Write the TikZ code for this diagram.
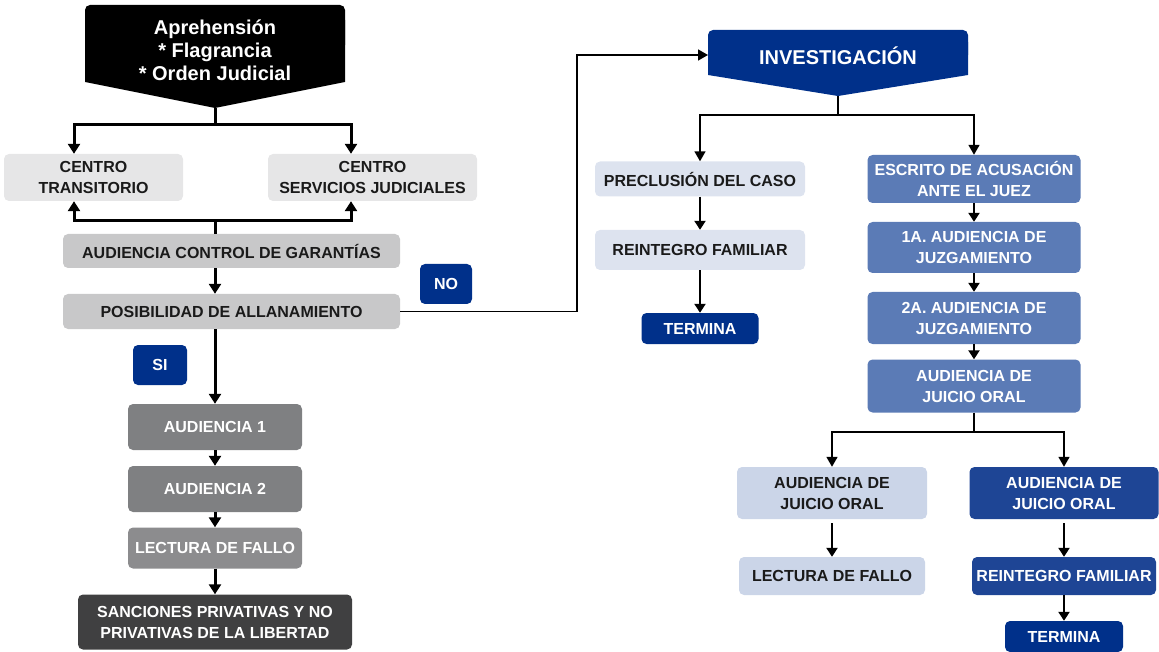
\documentclass[tikz,border=0pt]{standalone}
\usepackage{fontspec}
\setmainfont{Liberation Sans}
\usetikzlibrary{arrows.meta}
\definecolor{lgray}{HTML}{E6E6E7}
\definecolor{mgray}{HTML}{C8C8C9}
\definecolor{gray1}{HTML}{7F8082}
\definecolor{gray2}{HTML}{8C8C8E}
\definecolor{dgray}{HTML}{404041}
\definecolor{dblue}{HTML}{00308A}
\definecolor{lblue}{HTML}{DDE3EF}
\definecolor{mblue}{HTML}{5B7BB6}
\definecolor{pblue}{HTML}{CBD5E8}
\definecolor{rblue}{HTML}{1E4595}
\definecolor{txt}{HTML}{1A1A1A}
\begin{document}
\begin{tikzpicture}[x=1pt,y=-1pt,
  box/.style={rounded corners=5pt, inner sep=0pt, align=center,
    font=\bfseries\fontsize{16}{21}\selectfont},
  darktxt/.style={text=txt},
  lighttxt/.style={text=white},
  thickln/.style={line width=3pt},
  thickarr/.style={line width=3pt, -{Triangle[width=12pt,length=10pt]}},
  medarr/.style={line width=2.4pt, -{Triangle[width=11pt,length=9pt]}},
  thinln/.style={line width=1.6pt},
  thinarr/.style={line width=1.6pt, -{Triangle[width=11pt,length=10pt]}},
]
\useasboundingbox (0,0) rectangle (1159,652);

% ---- Aprehension shape
\fill[black, rounded corners=5pt] (85,5) rectangle (345,50);
\fill[black] (85,20) -- (345,20) -- (345,82) -- (215,108) -- (85,82) -- cycle;
\node[align=center, text=white, font=\bfseries\fontsize{20}{23}\selectfont] (apr) at (215,50)
  {Aprehensión\\* Flagrancia\\* Orden Judicial};
\coordinate (aprTip) at (215,108);

% ---- left column
\node[box, darktxt, fill=lgray, minimum width=179, minimum height=47] (ct) at (93.5,177.5) {CENTRO\\TRANSITORIO};
\node[box, darktxt, fill=lgray, minimum width=209, minimum height=47] (csj) at (372.5,177.5) {CENTRO\\SERVICIOS JUDICIALES};
\node[box, darktxt, fill=mgray, minimum width=337, minimum height=34] (acg) at (231.5,251) {AUDIENCIA CONTROL DE GARANTÍAS};
\node[box, darktxt, fill=mgray, minimum width=337, minimum height=35] (pos) at (231.5,311.5) {POSIBILIDAD DE ALLANAMIENTO};
\node[box, lighttxt, fill=dblue, minimum width=52, minimum height=40] (no) at (446,284) {NO};
\node[box, lighttxt, fill=dblue, minimum width=54, minimum height=40] (si) at (160,365) {SI};
\node[box, lighttxt, fill=gray1, minimum width=174, minimum height=46] (a1) at (215,427) {AUDIENCIA 1};
\node[box, lighttxt, fill=gray1, minimum width=174, minimum height=46] (a2) at (215,489) {AUDIENCIA 2};
\node[box, lighttxt, fill=gray2, minimum width=174, minimum height=41] (lf) at (215,548) {LECTURA DE FALLO};
\node[box, lighttxt, fill=dgray, minimum width=274, minimum height=55] (san) at (215,622) {SANCIONES PRIVATIVAS Y NO\\PRIVATIVAS DE LA LIBERTAD};

\coordinate (j1) at (215,125);
\draw[thickln] (aprTip) -- (j1);
\draw[thickarr] (j1) -| ([xshift=-19.5pt]ct.north);
\draw[thickarr] (j1) -| ([xshift=-21.5pt]csj.north);
\coordinate (j2) at (215,221);
\draw[thickln] ([xshift=-16.5pt]acg.north) -- (j2);
\draw[thickarr] (j2) -| ([xshift=-19.5pt]ct.south);
\draw[thickarr] (j2) -| ([xshift=-21.5pt]csj.south);
\draw[thickarr] ([xshift=-16.5pt]acg.south) -- ([xshift=-16.5pt]pos.north);
\draw[thickarr] ([xshift=-16.5pt]pos.south) -- (a1.north);
\draw[thickarr] (a1.south) -- (a2.north);
\draw[thickarr] (a2.south) -- (lf.north);
\draw[thickarr] (lf.south) -- (san.north);

% ---- Investigacion shape
\fill[dblue, rounded corners=5pt] (708,30) rectangle (968,60);
\fill[dblue] (708,42) -- (968,42) -- (968,75) -- (838,96) -- (708,75) -- cycle;
\node[text=white, font=\bfseries\fontsize{20}{23}\selectfont] (inv) at (838,56) {INVESTIGACIÓN};
\coordinate (invTip) at (838,96);
\coordinate (invW) at (708,55);
\draw[thinarr] (pos.east) -- ++(177,0) |- (invW);

% ---- right middle column
\node[box, darktxt, fill=lblue, minimum width=210, minimum height=35] (pre) at (700,179) {PRECLUSIÓN DEL CASO};
\node[box, darktxt, fill=lblue, minimum width=210, minimum height=40] (rf1) at (700,250) {REINTEGRO FAMILIAR};
\node[box, lighttxt, fill=dblue, minimum width=117, minimum height=31] (t1) at (700,328.5) {TERMINA};

\node[box, lighttxt, fill=mblue, minimum width=213, minimum height=48] (esc) at (974,179) {ESCRITO DE ACUSACIÓN\\ANTE EL JUEZ};
\node[box, lighttxt, fill=mblue, minimum width=213, minimum height=51] (j1a) at (974,247.5) {1A. AUDIENCIA DE\\JUZGAMIENTO};
\node[box, lighttxt, fill=mblue, minimum width=213, minimum height=52] (j2a) at (974,318) {2A. AUDIENCIA DE\\JUZGAMIENTO};
\node[box, lighttxt, fill=mblue, minimum width=213, minimum height=53] (ajo) at (974,386) {AUDIENCIA DE\\JUICIO ORAL};

\coordinate (j3) at (838,115);
\draw[thinln] (invTip) -- (j3);
\draw[thinarr] (j3) -| (pre.north);
\draw[thinarr] (j3) -| (esc.north);
\draw[medarr] (pre.south) -- (rf1.north);
\draw[medarr] (rf1.south) -- (t1.north);
\draw[medarr] (esc.south) -- (j1a.north);
\draw[medarr] (j1a.south) -- (j2a.north);
\draw[medarr] (j2a.south) -- (ajo.north);

% ---- bottom right
\node[box, darktxt, fill=pblue, minimum width=190, minimum height=52] (ajl) at (832,493) {AUDIENCIA DE\\JUICIO ORAL};
\node[box, darktxt, fill=pblue, minimum width=186, minimum height=38] (lfr) at (832,576) {LECTURA DE FALLO};
\node[box, lighttxt, fill=rblue, minimum width=189, minimum height=52] (ajr) at (1064,493) {AUDIENCIA DE\\JUICIO ORAL};
\node[box, lighttxt, fill=rblue, minimum width=184, minimum height=38] (rf2) at (1064,576) {REINTEGRO FAMILIAR};
\node[box, lighttxt, fill=dblue, minimum width=118, minimum height=31] (t2) at (1064,636.5) {TERMINA};

\coordinate (j4) at (974,432);
\draw[thinln] (ajo.south) -- (j4);
\draw[thinarr] (j4) -| (ajl.north);
\draw[thinarr] (j4) -| (ajr.north);
\draw[medarr] ([yshift=-4pt]ajl.south) -- (lfr.north);
\draw[medarr] ([yshift=-4pt]ajr.south) -- (rf2.north);
\draw[medarr] (rf2.south) -- (t2.north);
\end{tikzpicture}
\end{document}
